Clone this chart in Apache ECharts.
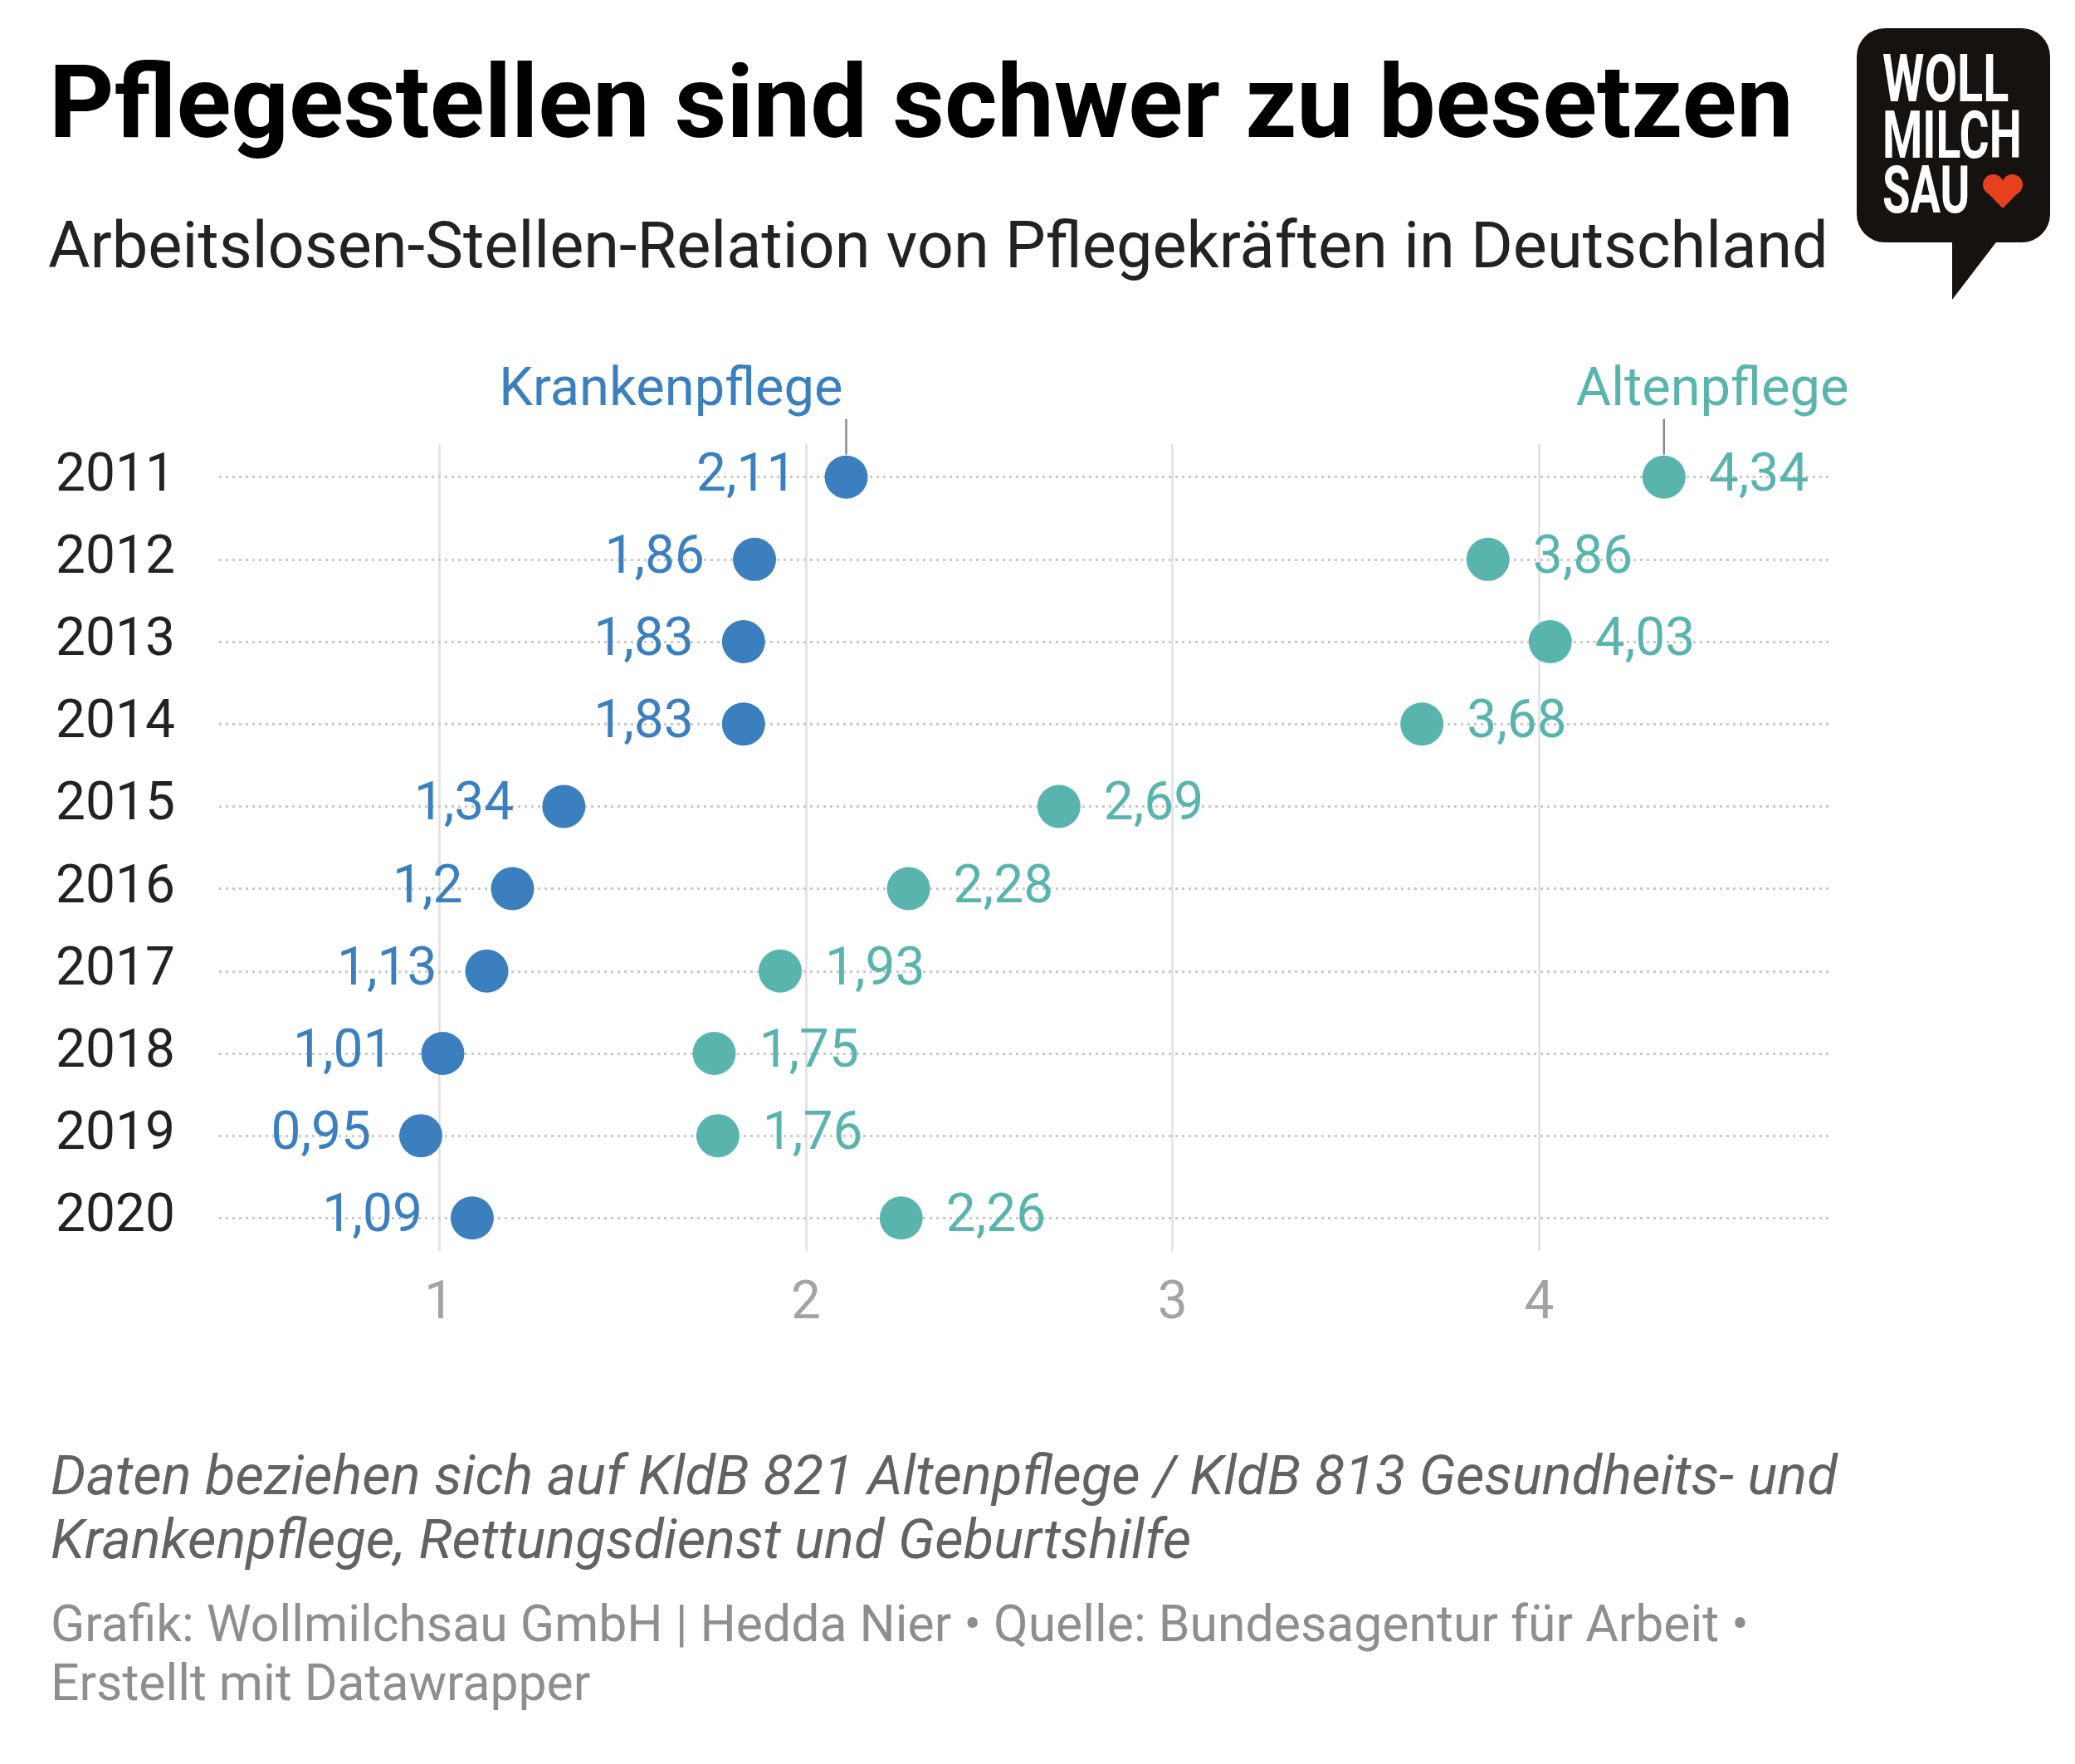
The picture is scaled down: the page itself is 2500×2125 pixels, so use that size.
<!DOCTYPE html>
<html><head><meta charset="utf-8">
<script src="https://cdn.jsdelivr.net/npm/echarts@6/dist/echarts.min.js"></script>
<style>html,body{margin:0;padding:0;background:#fff}#c{width:2500px;height:2125px}</style>
</head><body><div id="c"></div>
<script>
const years = [2011, 2012, 2013, 2014, 2015, 2016, 2017, 2018, 2019, 2020];
const krankenpflege = [2.11, 1.86, 1.83, 1.83, 1.34, 1.2, 1.13, 1.01, 0.95, 1.09];
const altenpflege = [4.34, 3.86, 4.03, 3.68, 2.69, 2.28, 1.93, 1.75, 1.76, 2.26];
const xTicks = [1, 2, 3, 4];
const seriesNames = ['Krankenpflege', 'Altenpflege'];

const FONT = 'Roboto';
const BLUE = '#3b7fbf', TEAL = '#5ab4ae';
const fmt = v => String(v).replace('.', ',');
const isInt = v => Math.abs(v - Math.round(v)) < 1e-6;

const chart = echarts.init(document.getElementById('c'), null, {renderer: 'canvas'});

const gridTop = 535, gridBottomPx = 1507;

const option = {
  animation: false,
  backgroundColor: '#fff',
  grid: {left: 264, right: 292, top: gridTop, bottom: 2125 - gridBottomPx, containLabel: false},
  xAxis: {
    type: 'value', min: 0.4, max: 4.8, interval: 0.2,
    axisLine: {show: false}, axisTick: {show: false}, splitLine: {show: false},
    axisLabel: {
      formatter: v => (isInt(v) && xTicks.indexOf(Math.round(v)) >= 0) ? String(Math.round(v)) : '',
      color: '#a3a3a3', fontSize: 64, fontFamily: FONT, margin: 33
    }
  },
  yAxis: {
    type: 'value', inverse: true, min: 2010.6, max: 2020.4, interval: 0.2,
    axisLine: {show: false}, axisTick: {show: false}, splitLine: {show: false},
    axisLabel: {
      formatter: v => (isInt(v) && years.indexOf(Math.round(v)) >= 0) ? String(Math.round(v)) : '',
      color: '#222', fontSize: 64, fontFamily: FONT, align: 'left', margin: 197
    }
  },
  series: [
    {
      name: seriesNames[0], type: 'scatter', z: 3,
      symbolSize: 52,
      itemStyle: {color: BLUE, opacity: 1},
      data: krankenpflege.map((v, i) => [v, years[i]]),
      label: {
        show: true, position: 'left', distance: 34,
        formatter: p => fmt(p.value[0]),
        color: BLUE, fontSize: 64, fontFamily: FONT
      },
      markLine: {
        silent: true, z: 1, symbol: ['none', 'none'], animation: false,
        label: {show: false},
        data: xTicks.map(t => ({xAxis: t, lineStyle: {color: '#e0e0e0', width: 2.5, type: 'solid'}}))
          .concat(years.map(y => ({yAxis: y, lineStyle: {color: '#c9c9c9', width: 3, type: [3, 5]}})))
      }
    },
    {
      name: seriesNames[1], type: 'scatter', z: 3,
      symbolSize: 52,
      itemStyle: {color: TEAL, opacity: 1},
      data: altenpflege.map((v, i) => [v, years[i]]),
      label: {
        show: true, position: 'right', distance: 28,
        formatter: p => fmt(p.value[0]),
        color: TEAL, fontSize: 64, fontFamily: FONT
      }
    }
  ]
};
chart.setOption(option);

const pK = chart.convertToPixel({gridIndex: 0}, [krankenpflege[0], years[0]]);
const pA = chart.convertToPixel({gridIndex: 0}, [altenpflege[0], years[0]]);

chart.setOption({
  graphic: [
    {type: 'text', x: 59, y: 134, style: {text: 'Pflegestellen sind schwer zu besetzen', fontFamily: FONT, fontWeight: 'bold', fontSize: 122, fill: '#000', align: 'left', verticalAlign: 'middle'}},
    {type: 'text', x: 58, y: 303, style: {text: 'Arbeitslosen-Stellen-Relation von Pflegekräften in Deutschland', fontFamily: FONT, fontSize: 77.5, fill: '#222', align: 'left', verticalAlign: 'middle'}},
    // series annotations
    {type: 'text', x: pK[0] - 4, y: 472, style: {text: seriesNames[0], fontFamily: FONT, fontSize: 65, fill: BLUE, align: 'right', verticalAlign: 'middle'}},
    {type: 'line', shape: {x1: pK[0], y1: pK[1] - 70, x2: pK[0], y2: pK[1] - 27}, style: {stroke: '#8a8a8a', lineWidth: 2.5}},
    {type: 'text', x: pA[0] - 106, y: 472, style: {text: seriesNames[1], fontFamily: FONT, fontSize: 65, fill: TEAL, align: 'left', verticalAlign: 'middle'}},
    {type: 'line', shape: {x1: pA[0], y1: pA[1] - 70, x2: pA[0], y2: pA[1] - 27}, style: {stroke: '#8a8a8a', lineWidth: 2.5}},
    // notes
    {type: 'text', x: 61, y: 1783, style: {text: 'Daten beziehen sich auf KldB 821 Altenpflege / KldB 813 Gesundheits- und', fontFamily: FONT, fontStyle: 'italic', fontSize: 67, fill: '#626262', align: 'left', verticalAlign: 'middle'}},
    {type: 'text', x: 61, y: 1860, style: {text: 'Krankenpflege, Rettungsdienst und Geburtshilfe', fontFamily: FONT, fontStyle: 'italic', fontSize: 67, fill: '#626262', align: 'left', verticalAlign: 'middle'}},
    {type: 'text', x: 61, y: 1962, style: {text: 'Grafik: Wollmilchsau GmbH | Hedda Nier • Quelle: Bundesagentur für Arbeit •', fontFamily: FONT, fontSize: 60.7, fill: '#8e8e8e', align: 'left', verticalAlign: 'middle'}},
    {type: 'text', x: 61, y: 2033, style: {text: 'Erstellt mit Datawrapper', fontFamily: FONT, fontSize: 60.7, fill: '#8e8e8e', align: 'left', verticalAlign: 'middle'}},
    // logo
    {type: 'rect', shape: {x: 2237, y: 34, width: 233, height: 258, r: 34}, style: {fill: '#15120f'}},
    {type: 'polygon', shape: {points: [[2352, 280], [2414, 280], [2352, 361]]}, style: {fill: '#15120f'}},
    {type: 'text', x: 2268, y: 102, scaleX: 0.72, style: {text: 'WOLL', fontFamily: FONT, fontWeight: 'bold', fontSize: 80, fill: '#fff', align: 'left', verticalAlign: 'middle'}},
    {type: 'text', x: 2268, y: 170, scaleX: 0.69, style: {text: 'MILCH', fontFamily: FONT, fontWeight: 'bold', fontSize: 80, fill: '#fff', align: 'left', verticalAlign: 'middle'}},
    {type: 'text', x: 2268, y: 236, scaleX: 0.68, style: {text: 'SAU', fontFamily: FONT, fontWeight: 'bold', fontSize: 80, fill: '#fff', align: 'left', verticalAlign: 'middle'}},
    {type: 'circle', shape: {cx: 2401.5, cy: 222.5, r: 12.5}, style: {fill: '#e5411c'}},
    {type: 'circle', shape: {cx: 2424.5, cy: 222.5, r: 12.5}, style: {fill: '#e5411c'}},
    {type: 'polygon', shape: {points: [[2390.5, 228], [2435.5, 228], [2413, 251]]}, style: {fill: '#e5411c'}}
  ]
});
</script>
</body></html>
